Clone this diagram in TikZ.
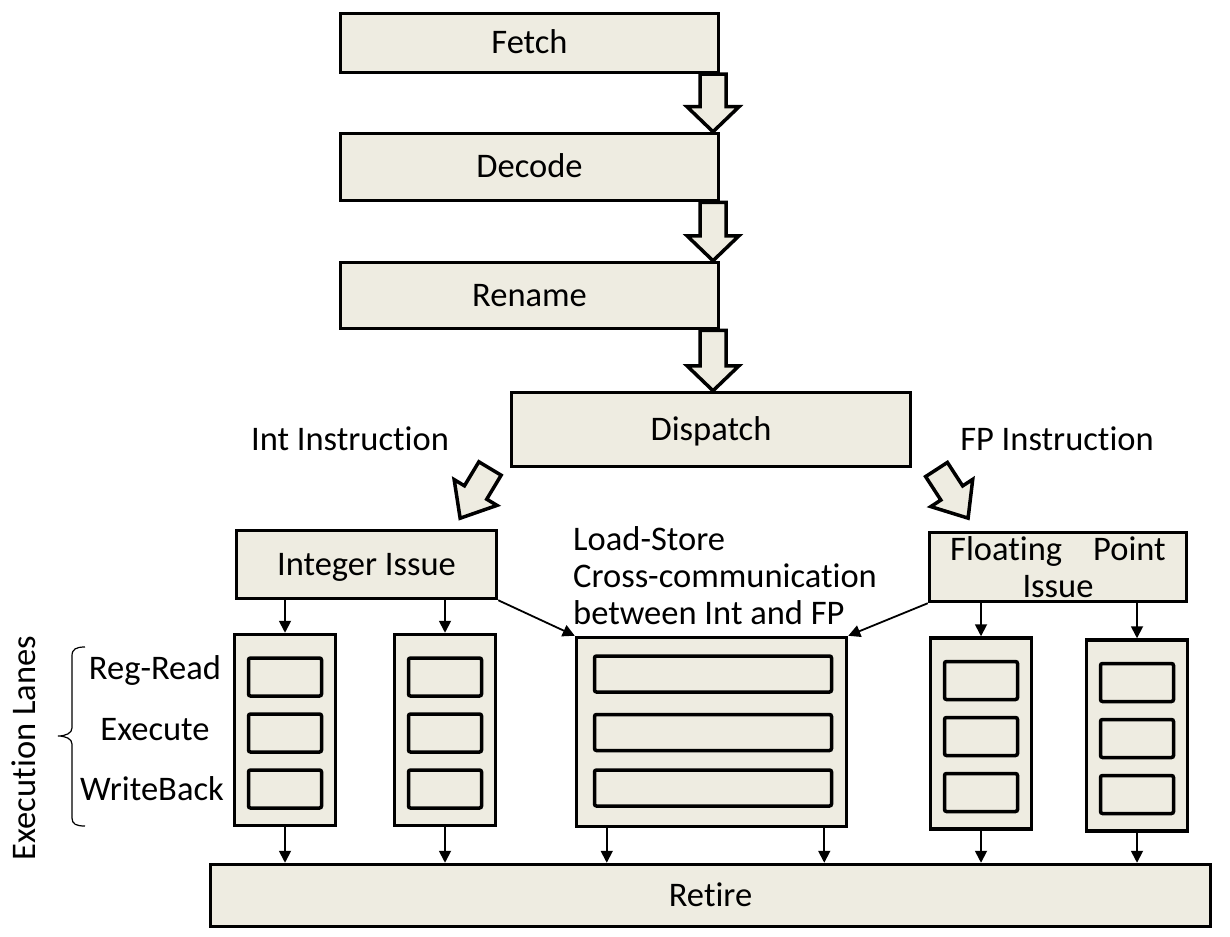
\documentclass[tikz,border=0pt]{standalone}
\usepackage{fontspec}
\setmainfont{Carlito}[Ligatures=NoCommon]
\usetikzlibrary{arrows.meta,calc}
\definecolor{boxfill}{HTML}{EEECE1}
\newcommand\vfat[3]{\draw[blockarrow] let \p1=(#1.south), \p2=(#2.north) in
  (#3-13,\y1) -- (#3+13,\y1) -- (#3+13,\y2+25pt) -- (#3+26,\y2+25pt) -- (#3,\y2)
  -- (#3-26,\y2+25pt) -- (#3-13,\y2+25pt) -- cycle;}
\newcommand\dfat[3]{\draw[blockarrow, shift={(#1,#2)}, rotate=#3]
  (-13,0) -- (13,0) -- (13,28) -- (25,28) -- (0,58) -- (-25,28) -- (-13,28) -- cycle;}
\begin{document}
\begin{tikzpicture}[x=1pt,y=-1pt,
  every node/.style={font=\fontsize{34.5}{37}\selectfont, inner sep=0pt},
  box/.style={draw, line width=3.5pt, fill=boxfill, text height=22pt, text depth=0pt},
  slot/.style={draw, line width=3.5pt, fill=boxfill, rounded corners=2pt},
  lane/.style={box, minimum width=101pt, minimum height=191pt},
  blockarrow/.style={draw, line width=3.5pt, fill=boxfill, line join=miter},
  sarrow/.style={line width=1.8pt, -{Triangle[width=12pt,length=12pt]}},
  lbl/.style={}]
\useasboundingbox (0,0) rectangle (1230,936);

% pipeline boxes
\node[box, minimum width=378pt, minimum height=59pt] (fetch) at (529.5,43) {Fetch};
\node[box, minimum width=378pt, minimum height=67pt] (decode) at (529.5,167) {Decode};
\node[box, minimum width=378pt, minimum height=66pt] (rename) at (529.5,295.5) {Rename};
\node[box, minimum width=399pt, minimum height=74pt] (dispatch) at (711,429.5) {Dispatch};
\node[box, minimum width=260pt, minimum height=68pt] (intissue) at (366.5,564.5) {Integer Issue};
\node[box, minimum width=257pt, minimum height=69pt, align=center, text height=, text depth=] (fpissue) at (1058,567) {Floating\hspace{0.9em}Point\\Issue};
\node[box, minimum width=1000pt, minimum height=62pt] (retire) at (710.5,895.5) {Retire};

% lanes
\node[lane] (lane1) at (285,730) {};
\node[lane] (lane2) at (445,730) {};
\node[lane] (lane3) at (981,733.5) {};
\node[lane] (lane4) at (1137,735.5) {};
\node[box, minimum width=270pt, minimum height=189pt] (mid) at (711.5,732) {};

\foreach \l in {lane1,lane2,lane3,lane4}{
  \node[slot, minimum width=73pt, minimum height=38pt] (\l a) at ($(\l.center)+(0,-53)$) {};
  \node[slot, minimum width=73pt, minimum height=38pt] (\l b) at ($(\l.center)+(0,3)$) {};
  \node[slot, minimum width=73pt, minimum height=38pt] (\l c) at ($(\l.center)+(0,59)$) {};
}
\node[slot, minimum width=237pt, minimum height=36pt] (mida) at ($(mid.center)+(1.5,-58)$) {};
\node[slot, minimum width=237pt, minimum height=36pt] (midb) at ($(mid.center)+(1.5,0.5)$) {};
\node[slot, minimum width=237pt, minimum height=36pt] (midc) at ($(mid.center)+(1.5,56)$) {};

% block arrows
\vfat{fetch}{decode}{713}
\vfat{decode}{rename}{713}
\vfat{rename}{dispatch}{713}
\dfat{490}{468.5}{-31}
\dfat{936.5}{469.5}{33}

% labels
\node[lbl, anchor=base] (intlbl) at (350,450) {Int Instruction};
\node[lbl, anchor=base] (fplbl) at (1057,450) {FP Instruction};
\node[lbl, align=left, anchor=north west] (ls) at (573,526) {Load-Store\\Cross-communication\\between Int and FP};
\node[lbl, anchor=base] (rr) at (155,679) {Reg-Read};
\node[lbl, anchor=base] (ex) at (155,740) {Execute};
\node[lbl, anchor=base] (wb) at (152,800) {WriteBack};
\node[lbl, rotate=90, anchor=base] (el) at (35,748) {Execution Lanes};

% brace
\draw[line width=1.2pt] (85,647) .. controls (76,647) and (72,649) .. (72,656) -- (72,728)
  .. controls (72,733) and (66,736) .. (58,736) .. controls (66,736) and (72,739) .. (72,744)
  -- (72,818) .. controls (72,824) and (76,826) .. (85,826);

% small arrows
\foreach \l in {lane1,lane2}{
  \draw[sarrow] (intissue.south -| \l.north) -- (\l.north);
  \draw[sarrow] (\l.south) -- (\l.south |- retire.north);
}
\foreach \l in {lane3,lane4}{
  \draw[sarrow] (fpissue.south -| \l.north) -- (\l.north);
  \draw[sarrow] (\l.south) -- (\l.south |- retire.north);
}
\coordinate (m1) at ($(mid.south west)+(32,0)$);
\coordinate (m2) at ($(mid.south east)+(-24,0)$);
\draw[sarrow] (m1) -- (m1 |- retire.north);
\draw[sarrow] (m2) -- (m2 |- retire.north);
\draw[sarrow] (intissue.south east) -- (mid.north west);
\draw[sarrow] (fpissue.south west) -- (mid.north east);
\end{tikzpicture}
\end{document}
